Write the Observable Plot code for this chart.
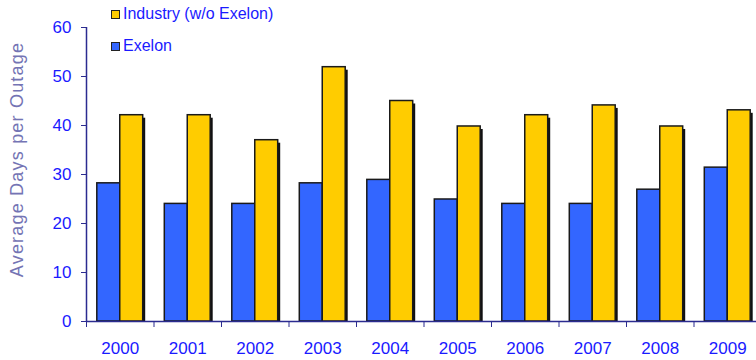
<!DOCTYPE html>
<html><head><meta charset="utf-8">
<script src="https://cdn.jsdelivr.net/npm/d3@7"></script>
<script src="https://cdn.jsdelivr.net/npm/@observablehq/plot@0.6"></script>
<style>
body{margin:0;background:#fff;font-family:"Liberation Sans",Arial,sans-serif;}
#wrap{position:relative;width:756px;height:360px;overflow:hidden;background:#fff;}
.leg{position:absolute;left:111px;font-size:16px;color:#1a1aff;display:flex;align-items:center;line-height:1;}
.sw{width:7px;height:7px;border:1.5px solid #222;margin-right:3px;}
g[aria-label="y-axis tick"], g[aria-label="x-axis tick"]{stroke:#2b2b90;}
g[aria-label="y-axis tick label"], g[aria-label="x-axis tick label"]{fill:#1a1aff;}
g[aria-label="text"] text{letter-spacing:1.2px;}
</style></head><body><div id="wrap"></div>
<script>
const years = [2000, 2001, 2002, 2003, 2004, 2005, 2006, 2007, 2008, 2009];
const exelon = [28.2, 24.0, 24.0, 28.2, 28.9, 24.9, 24.0, 24.0, 26.9, 31.4];
const industry = [42.1, 42.1, 37.0, 51.9, 45.0, 39.8, 42.1, 44.1, 39.8, 43.1];
const seriesNames = ["Exelon", "Industry (w/o Exelon)"];
const seriesColors = ["#3366ff", "#ffcc00"];
const yTicks = [0, 10, 20, 30, 40, 50, 60];
const yLabel = "Average Days per Outage";

const barW = 0.34;
const rows = years.flatMap((y, i) => [
  {year: y, series: seriesNames[0], value: exelon[i]},
  {year: y, series: seriesNames[1], value: industry[i]}
]);
const isEx = d => d.series === seriesNames[0];
const boundaries = years.map(y => y - 0.5).concat([years[years.length - 1] + 0.5]);
const xDomain = [boundaries[0], boundaries[boundaries.length - 1]];

const chart = Plot.plot({
  width: 756, height: 360,
  marginLeft: 86, marginRight: -5, marginTop: 27, marginBottom: 39,
  style: {fontFamily: "Liberation Sans, Arial, sans-serif", background: "white"},
  x: {type: "linear", domain: xDomain, axis: null},
  y: {domain: [yTicks[0], yTicks[yTicks.length - 1]], axis: null},
  color: {domain: seriesNames, range: seriesColors},
  marks: [
    Plot.rectY(rows.filter(d => !isEx(d)), {
      x1: d => d.year, x2: d => d.year + barW, y1: 0, y2: "value",
      fill: "#111", dx: 2.5, insetTop: 3
    }),
    Plot.rectY(rows, {
      x1: d => isEx(d) ? d.year - barW : d.year,
      x2: d => isEx(d) ? d.year : d.year + barW,
      y1: 0, y2: "value",
      fill: "series", stroke: "#1a1a1a", strokeWidth: 1.5
    }),
    Plot.ruleY([yTicks[0]], {stroke: "#2b2b90", strokeWidth: 1.5}),
    Plot.ruleX([xDomain[0]], {y1: yTicks[0], y2: yTicks[yTicks.length - 1], stroke: "#2b2b90", strokeWidth: 1.5}),
    Plot.axisY({ticks: yTicks, tickSize: 5, tickPadding: 10, fontSize: 17, label: null}),
    Plot.axisX({ticks: boundaries, tickSize: 6, tickFormat: () => "", label: null}),
    Plot.axisX({ticks: years, tickSize: 0, tickPadding: 20, fontSize: 17, tickFormat: d => String(d), label: null}),
    Plot.text([yLabel], {frameAnchor: "left", textAnchor: "middle", rotate: -90, dx: -69, dy: -15, fontSize: 18, fill: "#7474b4"})
  ]
});
const wrap = document.getElementById("wrap");
wrap.appendChild(chart);

const legendItems = [
  {name: seriesNames[1], color: seriesColors[1], top: 6},
  {name: seriesNames[0], color: seriesColors[0], top: 38}
];
for (const it of legendItems) {
  const div = document.createElement("div");
  div.className = "leg";
  div.style.top = it.top + "px";
  const sw = document.createElement("span");
  sw.className = "sw";
  sw.style.background = it.color;
  div.appendChild(sw);
  div.appendChild(document.createTextNode(it.name));
  wrap.appendChild(div);
}
</script>
</body></html>
